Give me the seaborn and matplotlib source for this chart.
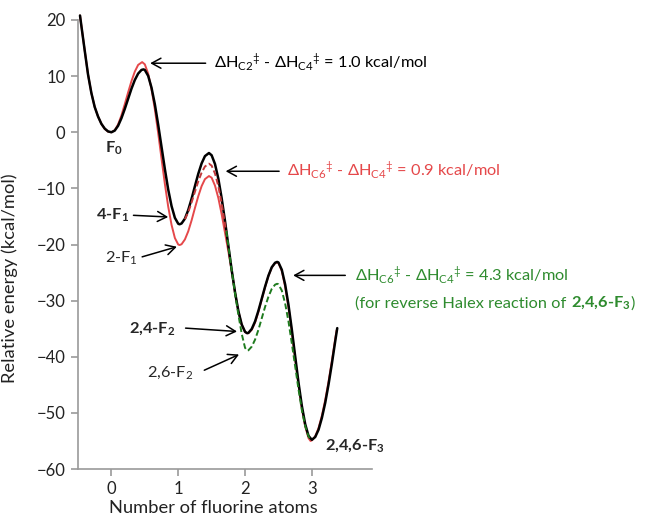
import matplotlib
matplotlib.use("Agg")
import matplotlib.pyplot as plt
import seaborn as sns

# --- data ---
black_x = [-0.47, -0.45, -0.4, -0.35, -0.3, -0.25, -0.2, -0.15, -0.1, -0.05, 0.0,
           0.05, 0.1, 0.15, 0.2, 0.25, 0.3, 0.35, 0.4, 0.45, 0.48,
           0.5, 0.55, 0.6, 0.65, 0.7, 0.75, 0.8, 0.85, 0.9, 0.95, 1.0, 1.02,
           1.05, 1.1, 1.15, 1.2, 1.25, 1.3, 1.35, 1.4, 1.46,
           1.5, 1.55, 1.6, 1.65, 1.7, 1.75, 1.8, 1.85, 1.9, 1.95, 2.0, 2.03,
           2.05, 2.1, 2.15, 2.2, 2.25, 2.3, 2.35, 2.4, 2.45, 2.48,
           2.5, 2.55, 2.6, 2.65, 2.7, 2.75, 2.8, 2.85, 2.9, 2.95, 3.0,
           3.05, 3.1, 3.15, 3.2, 3.25, 3.3, 3.35, 3.38]
black_y = [20.8, 19.0, 14.6, 10.3, 7.0, 4.5, 2.8, 1.5, 0.65, 0.15, 0.0,
           0.3, 1.15, 2.5, 4.15, 5.95, 7.75, 9.3, 10.45, 11.1, 11.2,
           11.1, 10.05, 7.95, 5.0, 1.35, -2.6, -6.55, -10.2, -13.15, -15.25, -16.3, -16.4,
           -16.25, -15.4, -13.85, -11.85, -9.6, -7.4, -5.55, -4.25, -3.7,
           -4.1, -5.65, -8.25, -11.75, -15.8, -20.2, -24.55, -28.5, -31.85, -34.25, -35.55, -35.8,
           -35.75, -35.05, -33.7, -31.8, -29.65, -27.5, -25.55, -24.05, -23.25, -23.1,
           -23.2, -24.5, -27.1, -30.75, -35.15, -39.9, -44.6, -48.75, -52.0, -54.1, -54.8,
           -54.3, -53.0, -50.9, -48.2, -44.9, -41.2, -37.2, -34.9]

red_x = [-0.47, -0.45, -0.4, -0.35, -0.3, -0.25, -0.2, -0.15, -0.1, -0.05, 0.0,
         0.05, 0.1, 0.15, 0.2, 0.25, 0.3, 0.35, 0.4, 0.46,
         0.5, 0.55, 0.6, 0.65, 0.7, 0.75, 0.8, 0.85, 0.9, 0.95, 1.0, 1.02,
         1.05, 1.1, 1.15, 1.2, 1.25, 1.3, 1.35, 1.4, 1.46,
         1.5, 1.55, 1.6, 1.65, 1.7, 1.75, 1.8, 1.85, 1.9, 1.95, 2.0, 2.03,
         2.05, 2.1, 2.15, 2.2, 2.25, 2.3, 2.35, 2.4, 2.45, 2.48,
         2.5, 2.55, 2.6, 2.65, 2.7, 2.75, 2.8, 2.85, 2.9, 2.95, 2.98, 3.0,
         3.05, 3.1, 3.15, 3.2, 3.25, 3.3, 3.35, 3.37]
red_y = [20.8, 19.0, 14.6, 10.3, 7.0, 4.5, 2.8, 1.5, 0.6, 0.1, 0.0,
         0.35, 1.4, 3.0, 5.0, 7.1, 9.1, 10.8, 12.0, 12.5,
         12.1, 10.45, 7.7, 4.1, -0.15, -4.7, -9.2, -13.25, -16.5, -18.85, -20.0, -20.1,
         -19.95, -19.1, -17.65, -15.7, -13.5, -11.4, -9.6, -8.35, -7.8,
         -8.1, -9.5, -11.7, -14.6, -17.9, -21.2, -24.7, -28.6, -31.9, -34.3, -35.6, -35.8,
         -35.8, -35.2, -33.9, -32.0, -29.8, -27.6, -25.6, -24.1, -23.3, -23.2,
         -23.3, -24.7, -27.5, -31.2, -35.6, -40.4, -45.1, -49.2, -52.4, -54.5, -55.0, -54.9,
         -54.2, -52.7, -50.5, -47.7, -44.4, -40.7, -36.8, -35.3]

# C6 path for the second step (red dashed)
red_dash_x = [1.1, 1.15, 1.2, 1.25, 1.3, 1.35, 1.4, 1.46, 1.5, 1.55, 1.6, 1.65, 1.7, 1.72]
red_dash_y = [-15.5, -14.25, -12.5, -10.6, -8.75, -7.2, -6.1, -5.6, -5.95, -7.35, -9.6, -12.7, -16.4, -18.0]

# 2,6-F2 path (green dashed)
green_x = [1.72, 1.75, 1.8, 1.85, 1.9, 1.95, 2.0, 2.03, 2.05, 2.1, 2.15, 2.2, 2.25, 2.3,
           2.35, 2.4, 2.45, 2.48, 2.5, 2.55, 2.6, 2.65, 2.7, 2.75, 2.8, 2.85, 2.9, 2.95, 2.98]
green_y = [-17.6, -20.2, -24.6, -28.7, -32.5, -35.9, -38.4, -38.9, -38.85, -38.2, -36.95, -35.2, -33.15, -31.1,
           -29.3, -27.9, -27.15, -27.0, -27.1, -28.2, -30.5, -33.7, -37.6, -41.7, -45.8, -49.5, -52.35, -54.2, -54.8]

x_ticks = [0, 1, 2, 3]
y_ticks = [-60, -50, -40, -30, -20, -10, 0, 10, 20]

RED = "#E5484A"
RED_DASH = "#C0393B"
GREEN = "#1E7B1E"
GREEN_TXT = "#2E8B2E"
AXIS = "#9A9A9A"

sns.set_theme(style="white")
plt.rcParams["font.family"] = ["Lato", "DejaVu Sans"]
plt.rcParams["mathtext.fontset"] = "custom"
plt.rcParams["mathtext.rm"] = "Lato"
plt.rcParams["mathtext.bf"] = "Lato:bold"
plt.rcParams["mathtext.it"] = "Lato:italic"

fig = plt.figure(figsize=(6.54, 5.23), dpi=100)
ax = fig.add_axes([78 / 654, 1 - 469 / 523, 294 / 654, 449 / 523])

sns.lineplot(x=red_x, y=red_y, ax=ax, color=RED, lw=1.4, sort=False, estimator=None)
sns.lineplot(x=black_x, y=black_y, ax=ax, color="black", lw=1.8, sort=False, estimator=None)
sns.lineplot(x=red_dash_x, y=red_dash_y, ax=ax, color=RED_DASH, lw=1.4, sort=False,
             estimator=None, linestyle=(0, (3, 1.5)))
sns.lineplot(x=green_x, y=green_y, ax=ax, color=GREEN, lw=1.4, sort=False,
             estimator=None, linestyle=(0, (3, 1.5)))
for ln in ax.lines:
    ln.set_clip_on(False)

ax.set_xlim(-0.5, 3.9)
ax.set_ylim(-60, 20)
ax.set_xticks(x_ticks)
ax.set_yticks(y_ticks)
sns.despine(ax=ax)
for s in ["left", "bottom"]:
    ax.spines[s].set_color(AXIS)
    ax.spines[s].set_linewidth(1.2)
ax.tick_params(axis="both", direction="out", length=5, width=1.2, color=AXIS,
               labelsize=12, labelcolor="#222222", pad=4)
ax.tick_params(axis="y", left=True)
ax.tick_params(axis="x", bottom=True)

ax.set_xlabel("Number of fluorine atoms", fontsize=13.2, color="#222222")
ax.set_ylabel("Relative energy (kcal/mol)", fontsize=13.2, color="#222222")
ax.xaxis.set_label_coords(0.46, -0.07)
ax.yaxis.set_label_coords(-0.205, 0.424)

arrow = dict(arrowstyle="->,head_length=0.55,head_width=0.3", color="black",
             lw=1.1, shrinkA=0, shrinkB=0)
txt = dict(fontsize=11.8, clip_on=False)

# annotations with arrows
ax.annotate("", xy=(0.58, 12.3), xytext=(1.41, 12.3), arrowprops=arrow)
ax.text(1.53, 12.3, r"ΔH$_{\mathrm{C2}}$$^{‡}$ - ΔH$_{\mathrm{C4}}$$^{‡}$ = 1.0 kcal/mol",
        va="center", ha="left", color="black", **txt)

ax.annotate("", xy=(1.71, -6.95), xytext=(2.51, -6.95), arrowprops=arrow)
ax.text(2.63, -6.95, r"ΔH$_{\mathrm{C6}}$$^{‡}$ - ΔH$_{\mathrm{C4}}$$^{‡}$ = 0.9 kcal/mol",
        va="center", ha="left", color=RED, **txt)

ax.annotate("", xy=(2.72, -25.5), xytext=(3.5, -25.5), arrowprops=arrow)
ax.text(3.65, -25.5, r"ΔH$_{\mathrm{C6}}$$^{‡}$ - ΔH$_{\mathrm{C4}}$$^{‡}$ = 4.3 kcal/mol",
        va="center", ha="left", color=GREEN_TXT, **txt)
t1 = ax.text(3.65, -30.5, "(for reverse Halex reaction of ", va="center", ha="left",
             color=GREEN_TXT, **txt)
t2 = ax.annotate(r"2,4,6-F$_{\mathbf{3}}$", xy=(1, 0), xycoords=t1, va="bottom", ha="left",
                 color=GREEN_TXT, fontsize=11.8, fontweight="bold", annotation_clip=False)
ax.annotate(")", xy=(1, 0), xycoords=t2, va="bottom", ha="left",
            color=GREEN_TXT, fontsize=11.8, annotation_clip=False)

# species labels
ax.text(0.03, -2.8, r"F$_{\mathbf{0}}$", ha="center", va="center", fontweight="bold", **txt)
ax.text(0.27, -14.8, r"4-F$_{\mathbf{1}}$", ha="right", va="center", fontweight="bold", **txt)
ax.annotate("", xy=(0.85, -15.1), xytext=(0.33, -14.8), arrowprops=arrow)
ax.text(0.39, -22.5, r"2-F$_{1}$", ha="right", va="center", **txt)
ax.annotate("", xy=(0.98, -20.4), xytext=(0.46, -22.2), arrowprops=arrow)
ax.text(0.96, -35.0, r"2,4-F$_{\mathbf{2}}$", ha="right", va="center", fontweight="bold", **txt)
ax.annotate("", xy=(1.88, -35.5), xytext=(1.11, -34.9), arrowprops=arrow)
ax.text(1.23, -42.9, r"2,6-F$_{2}$", ha="right", va="center", **txt)
ax.annotate("", xy=(1.91, -39.6), xytext=(1.39, -42.4), arrowprops=arrow)
ax.text(3.2, -55.9, r"2,4,6-F$_{\mathbf{3}}$", ha="left", va="center", fontweight="bold", **txt)

fig.savefig("out.png", dpi=100)
